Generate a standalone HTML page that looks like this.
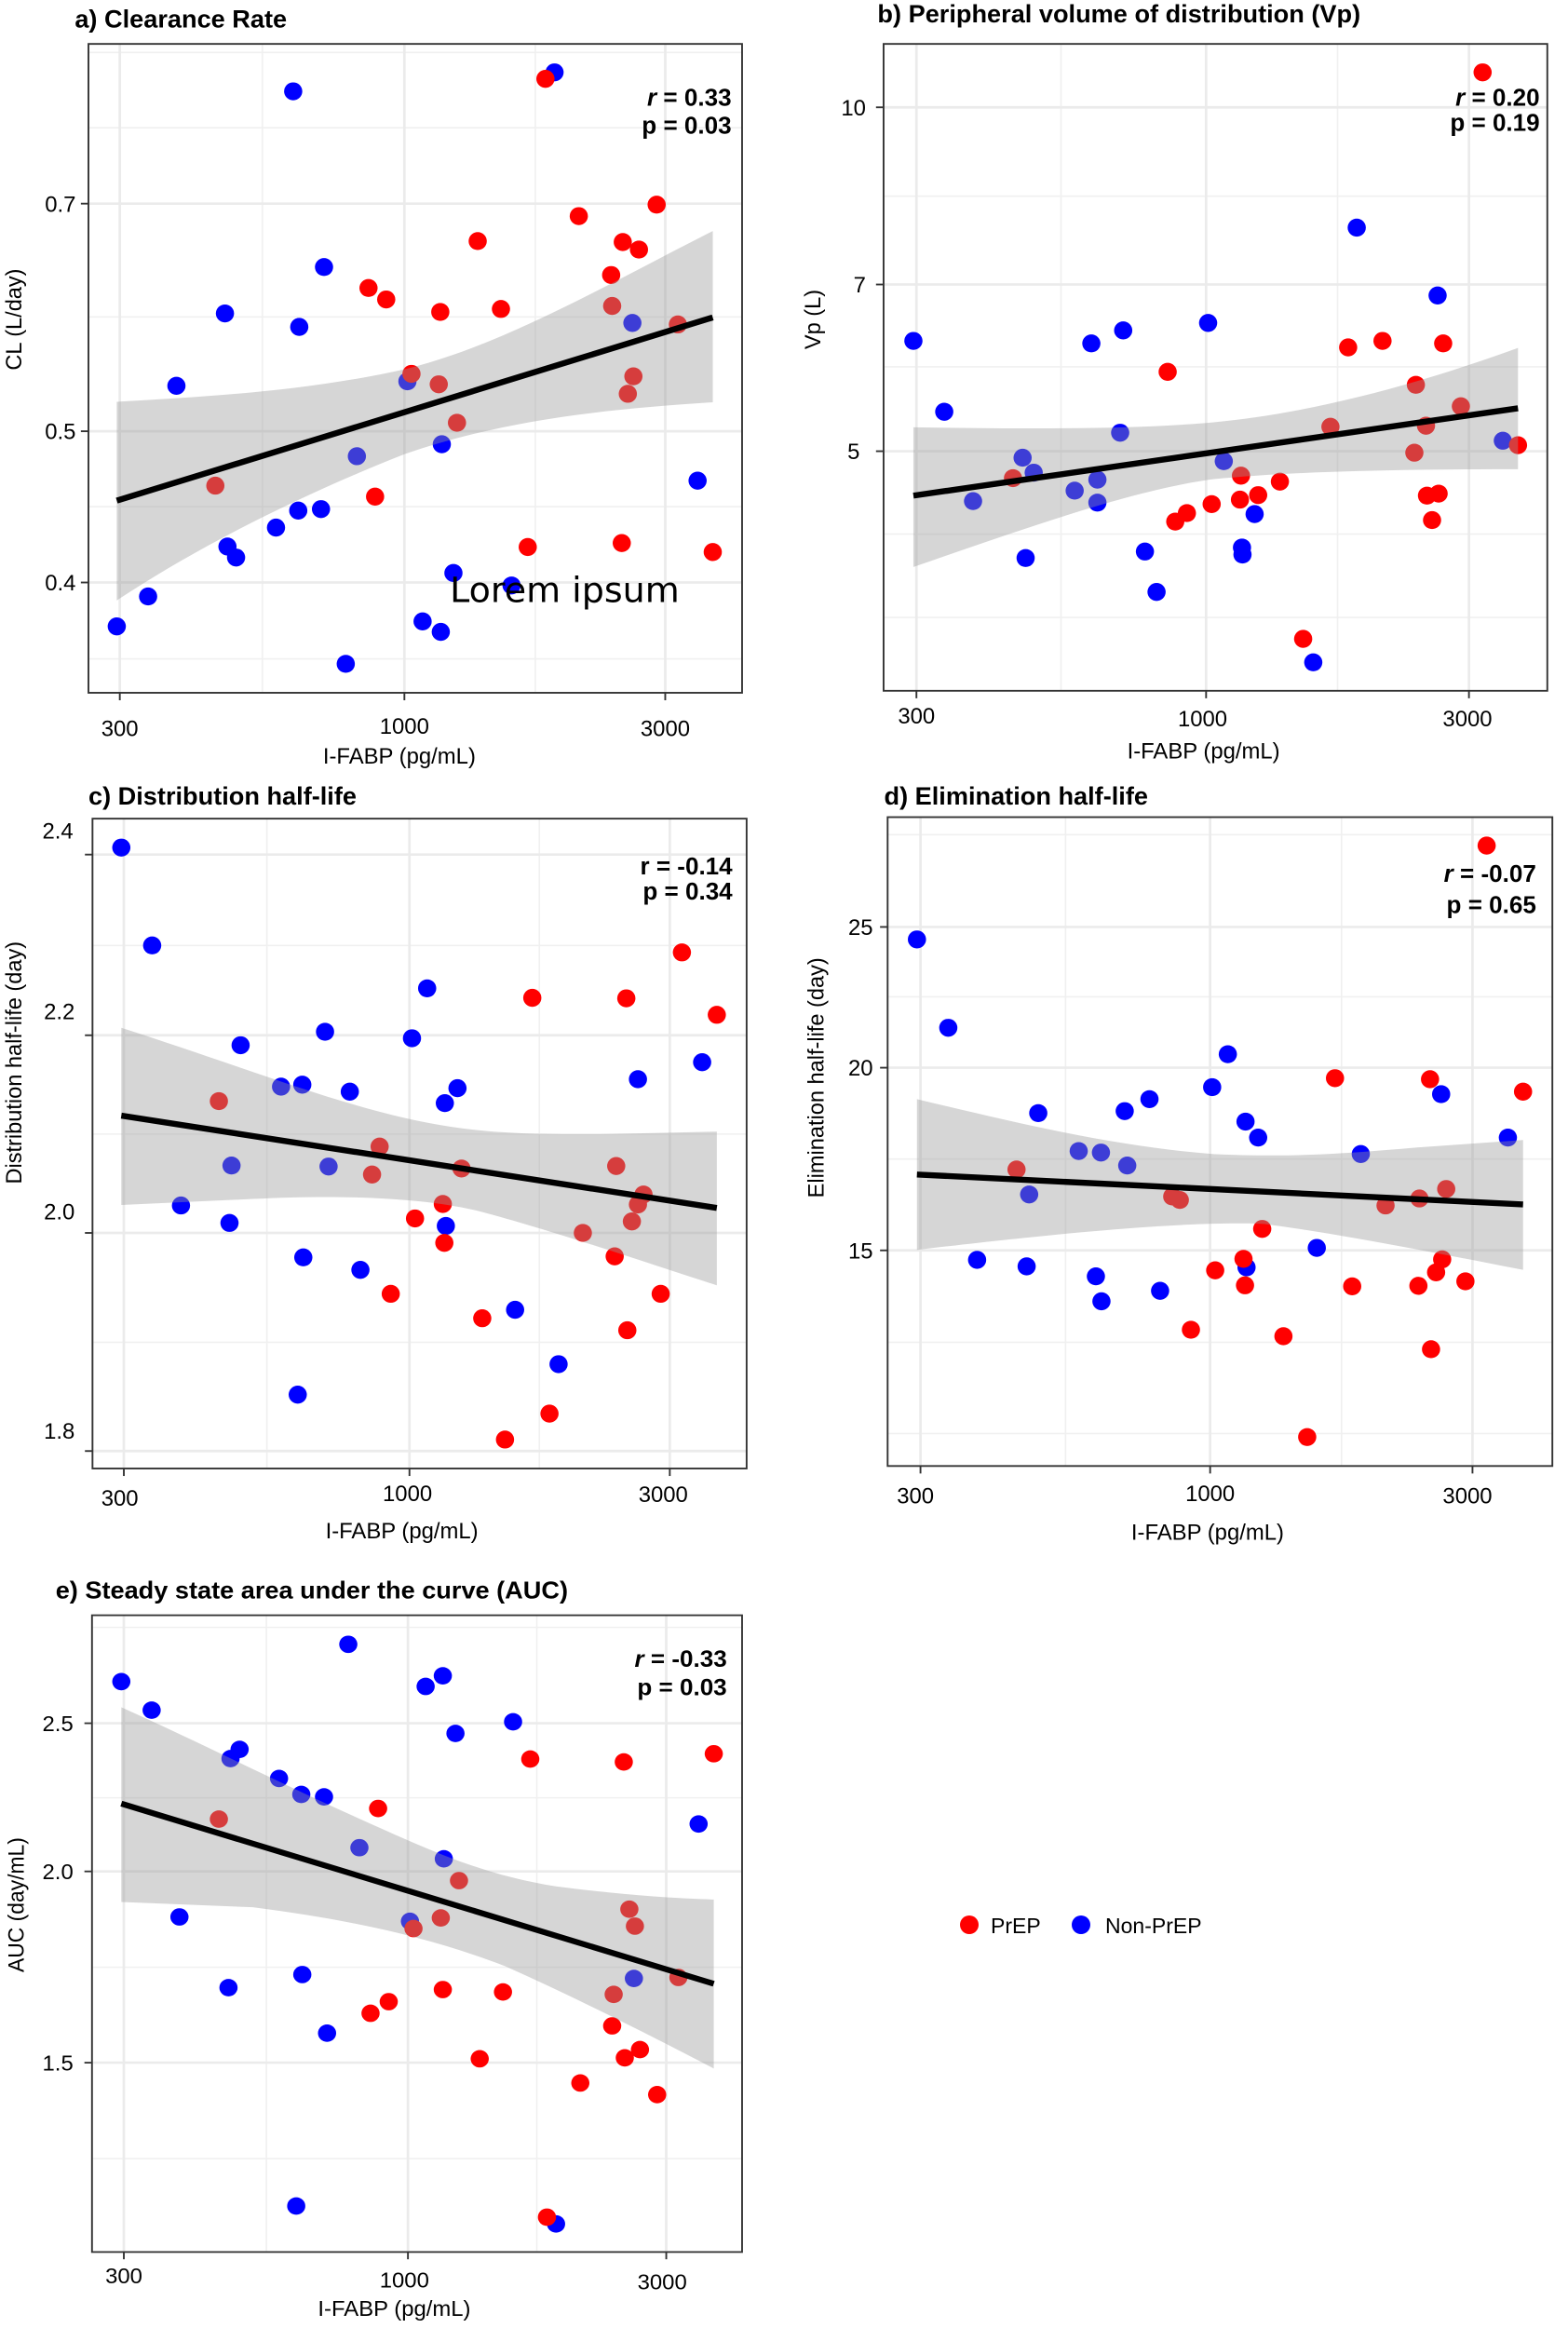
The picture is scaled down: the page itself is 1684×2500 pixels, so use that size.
<!DOCTYPE html>
<html><head><meta charset="utf-8"><style>
html,body{margin:0;padding:0;background:#fff}
svg{display:block}
text{font-family:"Liberation Sans",Arial,sans-serif;fill:#000}
.tk{font-size:44px}
.tt{font-size:50px;font-weight:bold}
.ax{font-size:44px}
.rt{font-size:48px;font-weight:bold}
.gM{stroke:#ebebeb;stroke-width:5}
.gm{stroke:#f0f0f0;stroke-width:3}
.fr{fill:none;stroke:#333;stroke-width:3.5}
.tick{stroke:#333;stroke-width:3.5}
.b circle{fill:#0000ff}
.r circle{fill:#ff0000}
.band{fill:#999;fill-opacity:0.4}
.ln{stroke:#000;stroke-width:12;fill:none}
</style></head><body>
<svg width="1684" height="2500" viewBox="0 0 1684 2500" xmlns="http://www.w3.org/2000/svg">
<rect width="1684" height="2500" fill="#fff"/>

<!-- Panel a -->
<g transform="translate(0,0) scale(0.5429,0.536)">
<text class="tt" x="148" y="55">a) Clearance Rate</text>
<g class="gm"><line x1="175" x2="1468" y1="105" y2="105"/><line x1="175" x2="1468" y1="256" y2="256"/><line x1="175" x2="1468" y1="635" y2="635"/><line x1="175" x2="1468" y1="1015" y2="1015"/><line x1="175" x2="1468" y1="1320" y2="1320"/><line y1="88" y2="1388" x1="519" x2="519"/><line y1="88" y2="1388" x1="1059" x2="1059"/></g>
<g class="gM"><line x1="175" x2="1468" y1="408" y2="408"/><line x1="175" x2="1468" y1="864" y2="864"/><line x1="175" x2="1468" y1="1167" y2="1167"/><line y1="88" y2="1388" x1="237" x2="237"/><line y1="88" y2="1388" x1="800" x2="800"/><line y1="88" y2="1388" x1="1316" x2="1316"/></g>
<g class="b"><circle cx="580" cy="183" r="18"/><circle cx="1097" cy="145" r="18"/><circle cx="641" cy="535" r="18"/><circle cx="445" cy="628" r="18"/><circle cx="592" cy="655" r="18"/><circle cx="349" cy="773" r="18"/><circle cx="806" cy="764" r="18"/><circle cx="706" cy="914" r="18"/><circle cx="874" cy="890" r="18"/><circle cx="546" cy="1057" r="18"/><circle cx="590" cy="1023" r="18"/><circle cx="635" cy="1020" r="18"/><circle cx="450" cy="1095" r="18"/><circle cx="467" cy="1117" r="18"/><circle cx="231" cy="1255" r="18"/><circle cx="293" cy="1195" r="18"/><circle cx="897" cy="1148" r="18"/><circle cx="1012" cy="1173" r="18"/><circle cx="836" cy="1245" r="18"/><circle cx="872" cy="1266" r="18"/><circle cx="684" cy="1330" r="18"/><circle cx="1380" cy="963" r="18"/><circle cx="1251" cy="647" r="18"/></g>
<g class="r"><circle cx="1079" cy="158" r="18"/><circle cx="1299" cy="410" r="18"/><circle cx="1145" cy="433" r="18"/><circle cx="945" cy="483" r="18"/><circle cx="1232" cy="485" r="18"/><circle cx="1264" cy="500" r="18"/><circle cx="1209" cy="551" r="18"/><circle cx="729" cy="577" r="18"/><circle cx="764" cy="600" r="18"/><circle cx="871" cy="625" r="18"/><circle cx="991" cy="619" r="18"/><circle cx="1211" cy="613" r="18"/><circle cx="1341" cy="650" r="18"/><circle cx="814" cy="749" r="18"/><circle cx="868" cy="770" r="18"/><circle cx="904" cy="847" r="18"/><circle cx="1253" cy="754" r="18"/><circle cx="1242" cy="789" r="18"/><circle cx="426" cy="973" r="18"/><circle cx="742" cy="995" r="18"/><circle cx="1044" cy="1096" r="18"/><circle cx="1230" cy="1088" r="18"/><circle cx="1410" cy="1106" r="18"/></g>
<path class="band" d="M231,805 C400,795 600,785 800,740 C1000,690 1200,570 1410,463 L1410,806 C1200,820 1000,840 800,910 C600,990 400,1090 231,1203 Z"/>
<line class="ln" x1="231" y1="1003" x2="1410" y2="636"/>
<rect class="fr" x="175" y="88" width="1293" height="1300"/>
<g class="tick"><line x1="160" x2="175" y1="408" y2="408"/><line x1="160" x2="175" y1="864" y2="864"/><line x1="160" x2="175" y1="1167" y2="1167"/><line y1="1388" y2="1403" x1="237" x2="237"/><line y1="1388" y2="1403" x1="800" x2="800"/><line y1="1388" y2="1403" x1="1316" x2="1316"/></g>
<g class="tk" text-anchor="end"><text x="150" y="424">0.7</text><text x="150" y="880">0.5</text><text x="150" y="1183">0.4</text></g>
<g class="tk" text-anchor="middle"><text x="237" y="1475">300</text><text x="800" y="1470">1000</text><text x="1316" y="1475">3000</text></g>
<text class="ax" x="790" y="1530" text-anchor="middle">I-FABP (pg/mL)</text>
<text class="ax" transform="translate(42,640) rotate(-90)" text-anchor="middle">CL (L/day)</text>
<text x="890" y="1206" style="font-size:70px;font-family:'DejaVu Sans','Liberation Sans',sans-serif">Lorem ipsum</text>
<text class="rt" x="1447" y="212" text-anchor="end"><tspan font-style="italic">r</tspan> =  0.33</text>
<text class="rt" x="1447" y="268" text-anchor="end">p = 0.03</text>
</g>

<!-- Panel b -->
<g transform="translate(842,0) scale(0.5429,0.536)">
<text class="tt" x="185" y="45">b) Peripheral volume of distribution (Vp)</text>
<g class="gm"><line x1="197" x2="1510" y1="393" y2="393"/><line x1="197" x2="1510" y1="735" y2="735"/><line x1="197" x2="1510" y1="1070" y2="1070"/><line x1="197" x2="1510" y1="1237" y2="1237"/><line y1="88" y2="1384" x1="548" x2="548"/><line y1="88" y2="1384" x1="1095" x2="1095"/></g>
<g class="gM"><line x1="197" x2="1510" y1="215" y2="215"/><line x1="197" x2="1510" y1="570" y2="570"/><line x1="197" x2="1510" y1="904" y2="904"/><line y1="88" y2="1384" x1="262" x2="262"/><line y1="88" y2="1384" x1="835" x2="835"/><line y1="88" y2="1384" x1="1355" x2="1355"/></g>
<g class="b"><circle cx="256" cy="683" r="18"/><circle cx="317" cy="825" r="18"/><circle cx="374" cy="1004" r="18"/><circle cx="472" cy="917" r="18"/><circle cx="478" cy="1118" r="18"/><circle cx="494" cy="947" r="18"/><circle cx="575" cy="983" r="18"/><circle cx="620" cy="961" r="18"/><circle cx="620" cy="1007" r="18"/><circle cx="665" cy="867" r="18"/><circle cx="608" cy="688" r="18"/><circle cx="671" cy="662" r="18"/><circle cx="714" cy="1105" r="18"/><circle cx="737" cy="1186" r="18"/><circle cx="839" cy="647" r="18"/><circle cx="870" cy="924" r="18"/><circle cx="906" cy="1097" r="18"/><circle cx="907" cy="1111" r="18"/><circle cx="931" cy="1030" r="18"/><circle cx="1047" cy="1327" r="18"/><circle cx="1133" cy="456" r="18"/><circle cx="1293" cy="592" r="18"/><circle cx="1422" cy="883" r="18"/></g>
<g class="r"><circle cx="1382" cy="145" r="18"/><circle cx="453" cy="958" r="18"/><circle cx="759" cy="745" r="18"/><circle cx="774" cy="1045" r="18"/><circle cx="797" cy="1028" r="18"/><circle cx="846" cy="1010" r="18"/><circle cx="904" cy="953" r="18"/><circle cx="902" cy="1001" r="18"/><circle cx="938" cy="992" r="18"/><circle cx="981" cy="965" r="18"/><circle cx="1027" cy="1280" r="18"/><circle cx="1081" cy="855" r="18"/><circle cx="1116" cy="696" r="18"/><circle cx="1184" cy="683" r="18"/><circle cx="1250" cy="771" r="18"/><circle cx="1247" cy="907" r="18"/><circle cx="1270" cy="853" r="18"/><circle cx="1272" cy="993" r="18"/><circle cx="1295" cy="989" r="18"/><circle cx="1282" cy="1042" r="18"/><circle cx="1304" cy="688" r="18"/><circle cx="1339" cy="814" r="18"/><circle cx="1452" cy="892" r="18"/></g>
<path class="band" d="M256,856 C500,860 700,860 850,846 C1000,832 1200,790 1452,697 L1452,940 C1200,940 1000,945 850,960 C700,980 500,1050 256,1136 Z"/>
<line class="ln" x1="256" y1="993" x2="1452" y2="818"/>
<rect class="fr" x="197" y="88" width="1313" height="1296"/>
<g class="tick"><line x1="182" x2="197" y1="215" y2="215"/><line x1="182" x2="197" y1="570" y2="570"/><line x1="182" x2="197" y1="904" y2="904"/><line y1="1384" y2="1399" x1="262" x2="262"/><line y1="1384" y2="1399" x1="835" x2="835"/><line y1="1384" y2="1399" x1="1355" x2="1355"/></g>
<g class="tk" text-anchor="end"><text x="162" y="231">10</text><text x="162" y="586">7</text><text x="150" y="920">5</text></g>
<g class="tk" text-anchor="middle"><text x="262" y="1450">300</text><text x="828" y="1455">1000</text><text x="1352" y="1455">3000</text></g>
<text class="ax" x="830" y="1520" text-anchor="middle">I-FABP (pg/mL)</text>
<text class="ax" transform="translate(72,640) rotate(-90)" text-anchor="middle">Vp (L)</text>
<text class="rt" x="1495" y="212" text-anchor="end"><tspan font-style="italic">r</tspan> =  0.20</text>
<text class="rt" x="1495" y="262" text-anchor="end">p = 0.19</text>
</g>

<!-- Panel c -->
<g transform="translate(0,840) scale(0.5429,0.536)">
<text class="tt" x="175" y="45">c) Distribution half-life</text>
<g class="gm"><line x1="183" x2="1477" y1="327" y2="327"/><line x1="183" x2="1477" y1="705" y2="705"/><line x1="183" x2="1477" y1="1122" y2="1122"/><line y1="73" y2="1375" x1="528" x2="528"/><line y1="73" y2="1375" x1="1067" x2="1067"/></g>
<g class="gM"><line x1="183" x2="1477" y1="145" y2="145"/><line x1="183" x2="1477" y1="507" y2="507"/><line x1="183" x2="1477" y1="903" y2="903"/><line x1="183" x2="1477" y1="1340" y2="1340"/><line y1="73" y2="1375" x1="245" x2="245"/><line y1="73" y2="1375" x1="810" x2="810"/><line y1="73" y2="1375" x1="1325" x2="1325"/></g>
<g class="b"><circle cx="240" cy="131" r="18"/><circle cx="301" cy="327" r="18"/><circle cx="845" cy="413" r="18"/><circle cx="476" cy="527" r="18"/><circle cx="643" cy="500" r="18"/><circle cx="815" cy="513" r="18"/><circle cx="556" cy="610" r="18"/><circle cx="598" cy="606" r="18"/><circle cx="692" cy="620" r="18"/><circle cx="880" cy="643" r="18"/><circle cx="905" cy="613" r="18"/><circle cx="1262" cy="595" r="18"/><circle cx="1389" cy="561" r="18"/><circle cx="458" cy="768" r="18"/><circle cx="650" cy="770" r="18"/><circle cx="358" cy="848" r="18"/><circle cx="454" cy="883" r="18"/><circle cx="882" cy="889" r="18"/><circle cx="600" cy="952" r="18"/><circle cx="713" cy="977" r="18"/><circle cx="1019" cy="1057" r="18"/><circle cx="1105" cy="1166" r="18"/><circle cx="589" cy="1227" r="18"/></g>
<g class="r"><circle cx="1349" cy="341" r="18"/><circle cx="1053" cy="432" r="18"/><circle cx="1239" cy="433" r="18"/><circle cx="1418" cy="466" r="18"/><circle cx="433" cy="639" r="18"/><circle cx="751" cy="730" r="18"/><circle cx="736" cy="786" r="18"/><circle cx="913" cy="774" r="18"/><circle cx="1219" cy="769" r="18"/><circle cx="876" cy="845" r="18"/><circle cx="1273" cy="826" r="18"/><circle cx="1262" cy="846" r="18"/><circle cx="1250" cy="880" r="18"/><circle cx="821" cy="874" r="18"/><circle cx="1153" cy="903" r="18"/><circle cx="879" cy="923" r="18"/><circle cx="1216" cy="950" r="18"/><circle cx="773" cy="1025" r="18"/><circle cx="1307" cy="1025" r="18"/><circle cx="954" cy="1074" r="18"/><circle cx="1241" cy="1098" r="18"/><circle cx="1087" cy="1265" r="18"/><circle cx="999" cy="1317" r="18"/></g>
<path class="band" d="M240,492 C450,560 600,620 750,660 C900,700 1000,707 1200,705 L1418,700 L1418,1008 C1300,970 1100,900 950,860 C850,835 700,825 500,835 L240,847 Z"/>
<line class="ln" x1="240" y1="668" x2="1418" y2="853"/>
<rect class="fr" x="183" y="73" width="1294" height="1302"/>
<g class="tick"><line x1="168" x2="183" y1="145" y2="145"/><line x1="168" x2="183" y1="507" y2="507"/><line x1="168" x2="183" y1="903" y2="903"/><line x1="168" x2="183" y1="1340" y2="1340"/><line y1="1375" y2="1390" x1="245" x2="245"/><line y1="1375" y2="1390" x1="810" x2="810"/><line y1="1375" y2="1390" x1="1325" x2="1325"/></g>
<g class="tk" text-anchor="end"><text x="145" y="113">2.4</text><text x="148" y="475">2.2</text><text x="148" y="876">2.0</text><text x="148" y="1315">1.8</text></g>
<g class="tk" text-anchor="middle"><text x="237" y="1450">300</text><text x="806" y="1440">1000</text><text x="1312" y="1442">3000</text></g>
<text class="ax" x="795" y="1515" text-anchor="middle">I-FABP (pg/mL)</text>
<text class="ax" transform="translate(42,562) rotate(-90)" text-anchor="middle">Distribution half-life (day)</text>
<text class="rt" x="1449" y="185" text-anchor="end">r = -0.14</text>
<text class="rt" x="1449" y="235" text-anchor="end">p = 0.34</text>
</g>

<!-- Panel d -->
<g transform="translate(842,840) scale(0.5429,0.536)">
<text class="tt" x="198" y="45">d)  Elimination half-life</text>
<g class="gm"><line x1="205" x2="1520" y1="105" y2="105"/><line x1="205" x2="1520" y1="430" y2="430"/><line x1="205" x2="1520" y1="755" y2="755"/><line x1="205" x2="1520" y1="1122" y2="1122"/><line x1="205" x2="1520" y1="1305" y2="1305"/><line y1="70" y2="1370" x1="557" x2="557"/><line y1="70" y2="1370" x1="1103" x2="1103"/></g>
<g class="gM"><line x1="205" x2="1520" y1="290" y2="290"/><line x1="205" x2="1520" y1="572" y2="572"/><line x1="205" x2="1520" y1="938" y2="938"/><line y1="70" y2="1370" x1="270" x2="270"/><line y1="70" y2="1370" x1="843" x2="843"/><line y1="70" y2="1370" x1="1362" x2="1362"/></g>
<g class="b"><circle cx="263" cy="315" r="18"/><circle cx="325" cy="492" r="18"/><circle cx="878" cy="545" r="18"/><circle cx="847" cy="611" r="18"/><circle cx="723" cy="635" r="18"/><circle cx="674" cy="659" r="18"/><circle cx="503" cy="663" r="18"/><circle cx="913" cy="680" r="18"/><circle cx="938" cy="712" r="18"/><circle cx="1300" cy="625" r="18"/><circle cx="1432" cy="712" r="18"/><circle cx="583" cy="739" r="18"/><circle cx="627" cy="742" r="18"/><circle cx="679" cy="768" r="18"/><circle cx="1141" cy="745" r="18"/><circle cx="485" cy="826" r="18"/><circle cx="382" cy="957" r="18"/><circle cx="480" cy="970" r="18"/><circle cx="915" cy="972" r="18"/><circle cx="1054" cy="933" r="18"/><circle cx="617" cy="990" r="18"/><circle cx="628" cy="1040" r="18"/><circle cx="744" cy="1019" r="18"/></g>
<g class="r"><circle cx="1390" cy="127" r="18"/><circle cx="1090" cy="593" r="18"/><circle cx="1278" cy="595" r="18"/><circle cx="1462" cy="620" r="18"/><circle cx="460" cy="776" r="18"/><circle cx="768" cy="830" r="18"/><circle cx="783" cy="837" r="18"/><circle cx="1310" cy="815" r="18"/><circle cx="1257" cy="834" r="18"/><circle cx="1190" cy="848" r="18"/><circle cx="946" cy="895" r="18"/><circle cx="909" cy="955" r="18"/><circle cx="853" cy="978" r="18"/><circle cx="912" cy="1008" r="18"/><circle cx="1124" cy="1010" r="18"/><circle cx="1255" cy="1009" r="18"/><circle cx="1290" cy="982" r="18"/><circle cx="1302" cy="956" r="18"/><circle cx="1348" cy="1000" r="18"/><circle cx="805" cy="1097" r="18"/><circle cx="988" cy="1110" r="18"/><circle cx="1280" cy="1136" r="18"/><circle cx="1035" cy="1312" r="18"/></g>
<path class="band" d="M263,635 C450,680 650,730 850,745 C1000,752 1100,745 1250,732 L1462,717 L1462,977 C1300,945 1100,905 950,885 C850,880 650,890 263,937 Z"/>
<line class="ln" x1="263" y1="786" x2="1462" y2="846"/>
<rect class="fr" x="205" y="70" width="1315" height="1300"/>
<g class="tick"><line x1="190" x2="205" y1="290" y2="290"/><line x1="190" x2="205" y1="572" y2="572"/><line x1="190" x2="205" y1="938" y2="938"/><line y1="1370" y2="1385" x1="270" x2="270"/><line y1="1370" y2="1385" x1="843" x2="843"/><line y1="1370" y2="1385" x1="1362" x2="1362"/></g>
<g class="tk" text-anchor="end"><text x="176" y="306">25</text><text x="176" y="588">20</text><text x="176" y="954">15</text></g>
<g class="tk" text-anchor="middle"><text x="260" y="1445">300</text><text x="843" y="1440">1000</text><text x="1352" y="1445">3000</text></g>
<text class="ax" x="838" y="1518" text-anchor="middle">I-FABP (pg/mL)</text>
<text class="ax" transform="translate(78,592) rotate(-90)" text-anchor="middle">Elimination half-life (day)</text>
<text class="rt" x="1488" y="200" text-anchor="end"><tspan font-style="italic">r</tspan> = -0.07</text>
<text class="rt" x="1488" y="262" text-anchor="end">p = 0.65</text>
</g>

<!-- Panel e -->
<g transform="translate(0,1680) scale(0.5429,0.52)">
<text class="tt" x="110" y="70">e) Steady state area under the curve (AUC)</text>
<g class="gm"><line x1="182" x2="1468" y1="130" y2="130"/><line x1="182" x2="1468" y1="482" y2="482"/><line x1="182" x2="1468" y1="832" y2="832"/><line x1="182" x2="1468" y1="1227" y2="1227"/><line y1="105" y2="1420" x1="527" x2="527"/><line y1="105" y2="1420" x1="1062" x2="1062"/></g>
<g class="gM"><line x1="182" x2="1468" y1="328" y2="328"/><line x1="182" x2="1468" y1="634" y2="634"/><line x1="182" x2="1468" y1="1029" y2="1029"/><line y1="105" y2="1420" x1="245" x2="245"/><line y1="105" y2="1420" x1="807" x2="807"/><line y1="105" y2="1420" x1="1318" x2="1318"/></g>
<g class="b"><circle cx="240" cy="242" r="18"/><circle cx="300" cy="301" r="18"/><circle cx="689" cy="165" r="18"/><circle cx="876" cy="230" r="18"/><circle cx="842" cy="252" r="18"/><circle cx="1015" cy="325" r="18"/><circle cx="901" cy="349" r="18"/><circle cx="456" cy="401" r="18"/><circle cx="474" cy="382" r="18"/><circle cx="552" cy="442" r="18"/><circle cx="596" cy="475" r="18"/><circle cx="641" cy="480" r="18"/><circle cx="711" cy="585" r="18"/><circle cx="878" cy="608" r="18"/><circle cx="1382" cy="536" r="18"/><circle cx="355" cy="728" r="18"/><circle cx="811" cy="737" r="18"/><circle cx="452" cy="874" r="18"/><circle cx="598" cy="847" r="18"/><circle cx="647" cy="968" r="18"/><circle cx="1254" cy="855" r="18"/><circle cx="586" cy="1325" r="18"/><circle cx="1100" cy="1362" r="18"/></g>
<g class="r"><circle cx="1049" cy="402" r="18"/><circle cx="1234" cy="408" r="18"/><circle cx="1412" cy="391" r="18"/><circle cx="748" cy="504" r="18"/><circle cx="433" cy="526" r="18"/><circle cx="908" cy="653" r="18"/><circle cx="1245" cy="712" r="18"/><circle cx="1256" cy="747" r="18"/><circle cx="872" cy="730" r="18"/><circle cx="818" cy="752" r="18"/><circle cx="1342" cy="853" r="18"/><circle cx="876" cy="878" r="18"/><circle cx="995" cy="883" r="18"/><circle cx="1214" cy="888" r="18"/><circle cx="769" cy="903" r="18"/><circle cx="733" cy="927" r="18"/><circle cx="1211" cy="953" r="18"/><circle cx="949" cy="1021" r="18"/><circle cx="1236" cy="1019" r="18"/><circle cx="1266" cy="1002" r="18"/><circle cx="1148" cy="1071" r="18"/><circle cx="1300" cy="1095" r="18"/><circle cx="1082" cy="1348" r="18"/></g>
<path class="band" d="M240,295 C400,370 550,450 700,520 C850,590 950,640 1100,665 C1250,685 1350,690 1412,692 L1412,1041 C1300,980 1150,900 1000,830 C850,770 700,735 500,708 L240,697 Z"/>
<line class="ln" x1="240" y1="494" x2="1412" y2="866"/>
<rect class="fr" x="182" y="105" width="1286" height="1315"/>
<g class="tick"><line x1="167" x2="182" y1="328" y2="328"/><line x1="167" x2="182" y1="634" y2="634"/><line x1="167" x2="182" y1="1029" y2="1029"/><line y1="1420" y2="1435" x1="245" x2="245"/><line y1="1420" y2="1435" x1="807" x2="807"/><line y1="1420" y2="1435" x1="1318" x2="1318"/></g>
<g class="tk" text-anchor="end"><text x="145" y="344">2.5</text><text x="145" y="650">2.0</text><text x="145" y="1045">1.5</text></g>
<g class="tk" text-anchor="middle"><text x="245" y="1485">300</text><text x="800" y="1493">1000</text><text x="1310" y="1497">3000</text></g>
<text class="ax" x="780" y="1552" text-anchor="middle">I-FABP (pg/mL)</text>
<text class="ax" transform="translate(47,703) rotate(-90)" text-anchor="middle">AUC (day/mL)</text>
<text class="rt" x="1438" y="212" text-anchor="end"><tspan font-style="italic">r</tspan> = -0.33</text>
<text class="rt" x="1438" y="270" text-anchor="end">p = 0.03</text>
</g>

<!-- Legend -->
<circle cx="1041" cy="2067" r="10" fill="#ff0000"/>
<text x="1064" y="2076" style="font-size:23px">PrEP</text>
<circle cx="1161" cy="2067" r="10" fill="#0000ff"/>
<text x="1187" y="2076" style="font-size:23px">Non-PrEP</text>
</svg>
</body></html>
